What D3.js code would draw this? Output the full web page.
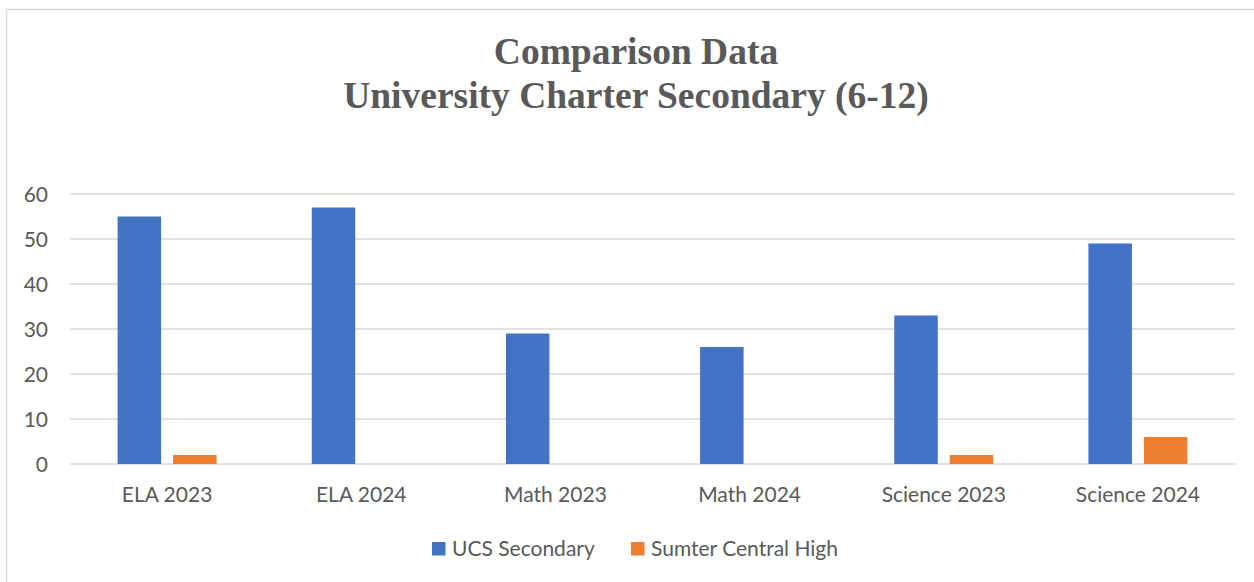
<!DOCTYPE html>
<html>
<head>
<meta charset="utf-8">
<script src="https://cdn.jsdelivr.net/npm/d3@7"></script>
<style>
  html, body { margin: 0; padding: 0; background: #fff; }
  svg { display: block; }
</style>
</head>
<body>
<div id="chart"></div>
<script>
const categories = ["ELA 2023", "ELA 2024", "Math 2023", "Math 2024", "Science 2023", "Science 2024"];
const seriesNames = ["UCS Secondary", "Sumter Central High"];
const ucsValues = [55, 57, 29, 26, 33, 49];
const sumterValues = [2, 0, 0, 0, 2, 6];
const yTicks = [0, 10, 20, 30, 40, 50, 60];
const titleLines = ["Comparison Data", "University Charter Secondary (6-12)"];
const colors = ["#4472c4", "#ed7d31"];

const W = 1254, H = 582;
const plot = { left: 70, right: 1235, top: 194, bottom: 464 };
const textColor = "#595959";
const sansFont = "Lato, 'Open Sans', sans-serif";
const labelSize = 21;

const svg = d3.select("#chart").append("svg").attr("width", W).attr("height", H);

// chart frame (cropped at right and bottom)
svg.append("rect").attr("x", 6.5).attr("y", 9.5).attr("width", W + 10).attr("height", H + 10)
    .attr("fill", "#fff").attr("stroke", "#d9d9d9").attr("stroke-width", 1.5);

// title
const title = svg.append("text").attr("text-anchor", "middle")
    .attr("font-family", "'Liberation Serif', 'Times New Roman', serif")
    .attr("font-weight", "bold").attr("font-size", 37.5).attr("fill", textColor);
titleLines.forEach((t, i) => title.append("tspan").attr("x", 636).attr("y", 64 + i * 44).text(t));

const x0 = d3.scaleBand().domain(categories).range([plot.left, plot.right]);
const x1 = d3.scaleBand().domain(seriesNames).range([-49.5, 49.5]).paddingInner(0.216);
const y = d3.scaleLinear().domain([0, 60]).range([plot.bottom, plot.top]);

// gridlines
svg.append("g").selectAll("line").data(yTicks).join("line")
    .attr("x1", plot.left).attr("x2", plot.right)
    .attr("y1", d => y(d)).attr("y2", d => y(d))
    .attr("stroke", "#d9d9d9").attr("stroke-width", 1.5);

// y axis labels
const yAxis = svg.append("g").attr("transform", `translate(48,0)`)
    .call(d3.axisLeft(y).tickValues(yTicks).tickSize(0).tickPadding(0));
yAxis.select(".domain").remove();
yAxis.selectAll("text").attr("font-family", sansFont).attr("font-size", labelSize)
    .attr("fill", textColor).attr("dy", "0.36em");

// bars
const rows = categories.map((c, i) => ({ cat: c, vals: [ucsValues[i], sumterValues[i]] }));
svg.append("g").selectAll("g").data(rows).join("g")
    .attr("transform", d => `translate(${x0(d.cat) + x0.bandwidth() / 2},0)`)
    .selectAll("rect").data(d => d.vals.map((v, k) => ({ name: seriesNames[k], v, k })))
    .join("rect")
    .attr("x", d => x1(d.name)).attr("width", x1.bandwidth())
    .attr("y", d => y(d.v)).attr("height", d => y(0) - y(d.v))
    .attr("fill", d => colors[d.k]);

// x axis labels
const xAxis = svg.append("g").attr("transform", `translate(0,502)`)
    .call(d3.axisBottom(x0).tickSize(0).tickPadding(0));
xAxis.select(".domain").remove();
xAxis.selectAll("text").attr("font-family", sansFont).attr("font-size", labelSize)
    .attr("fill", textColor).attr("y", 0).attr("dy", 0);

// legend
const legendX = [432, 631];
const legend = svg.append("g").selectAll("g").data(seriesNames).join("g")
    .attr("transform", (d, i) => `translate(${legendX[i]},542)`);
legend.append("rect").attr("width", 13.5).attr("height", 13.5).attr("fill", (d, i) => colors[i]);
legend.append("text").attr("x", 20).attr("y", 14)
    .attr("font-family", sansFont).attr("font-size", labelSize).attr("fill", textColor).text(d => d);
</script>
</body>
</html>
